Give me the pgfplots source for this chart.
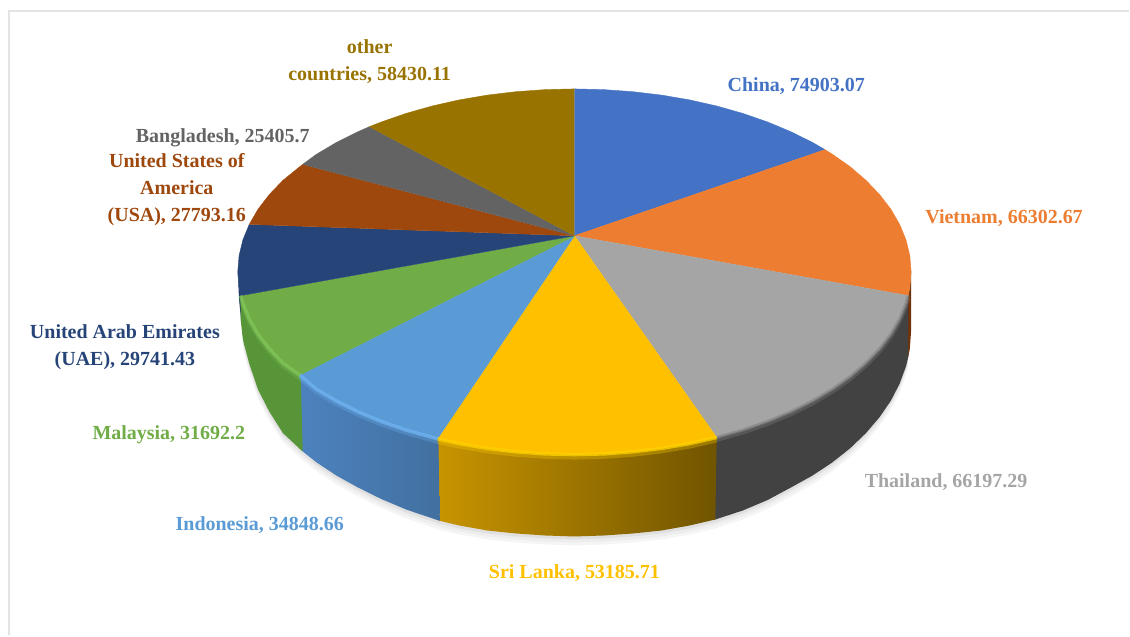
\documentclass[border=0pt]{standalone}
\usepackage{pgfplots}
\usepackage{pgfplotstable}
\usepackage{fontspec}
\setmainfont{Liberation Serif}
\pgfplotsset{compat=1.18}
\tikzset{lab/.style={font=\fontsize{20}{27}\selectfont\bfseries, align=center, inner sep=0pt}}
\definecolor{cChina}{HTML}{4472C4}
\definecolor{cViet}{HTML}{ED7D31}
\definecolor{cThai}{HTML}{A5A5A5}
\definecolor{cSri}{HTML}{FFC000}
\definecolor{cIndo}{HTML}{5B9BD5}
\definecolor{cMal}{HTML}{70AD47}
\definecolor{cUAE}{HTML}{264478}
\definecolor{cUSA}{HTML}{9E480E}
\definecolor{cBan}{HTML}{636363}
\definecolor{cOth}{HTML}{997300}
\definecolor{sSriL}{RGB}{200,148,0}
\definecolor{sSriR}{RGB}{112,84,0}
\definecolor{sIndoL}{RGB}{76,130,190}
\definecolor{sIndoR}{RGB}{66,112,160}
\definecolor{sMalC}{RGB}{88,148,56}
\definecolor{rSri}{RGB}{255,208,0}
\definecolor{rIndo}{RGB}{110,178,240}
\definecolor{rMal}{RGB}{128,196,88}
\definecolor{rThai}{RGB}{128,128,128}
% top faces: first row is the apex
\pgfplotstableread{
x y
575 236
575 89
604.4 89.7
633.5 91.8
662.2 95.2
690.3 100
717.4 106.1
743.5 113.5
768.3 122.1
791.6 131.8
813.3 142.6
825.8 149.8
}\tChina
\pgfplotstableread{
x y
575 236
825.8 149.8
833.2 154.4
851.1 167
866.8 180.5
880.4 194.7
891.7 209.4
900.5 224.6
906.9 240.2
910.7 256
912 272
910.7 288
909.1 295.9
}\tViet
\pgfplotstableread{
x y
575 236
909.1 295.9
906.9 303.8
900.5 319.4
891.7 334.6
880.4 349.3
866.8 363.5
851.1 377
833.2 389.6
813.3 401.4
791.6 412.2
768.3 421.9
743.5 430.5
717.4 437.9
}\tThai
\pgfplotstableread{
x y
575 236
717.4 437.9
690.3 444
662.2 448.8
633.5 452.2
604.4 454.3
575 455
545.6 454.3
516.5 452.2
487.8 448.8
459.7 444
437.9 439.2
}\tSri
\pgfplotstableread{
x y
575 236
437.9 439.2
406.5 430.5
381.7 421.9
358.4 412.2
336.7 401.4
316.8 389.6
300 375.5
}\tIndo
\pgfplotstableread{
x y
575 236
300 375.5
283.2 363.5
269.6 349.3
258.3 334.6
249.5 319.4
243.1 303.8
240.9 295.9
}\tMal
\pgfplotstableread{
x y
575 236
240.9 295.9
239.3 288
238 272
239.3 256
243.1 240.2
249.5 224.6
}\tUAE
\pgfplotstableread{
x y
575 236
249.5 224.6
258.3 209.4
269.6 194.7
283.2 180.5
303 164.5
}\tUSA
\pgfplotstableread{
x y
575 236
303 164.5
316.8 154.4
336.7 142.6
358.4 131.8
369.8 126.8
}\tBan
\pgfplotstableread{
x y
575 236
369.8 126.8
381.7 122.1
406.5 113.5
432.6 106.1
459.7 100
487.8 95.2
516.5 91.8
545.6 89.7
575 89
}\tOth
% side walls: top edge, then bottom edge back
\pgfplotstableread{
x y
912 272
910.7 288
909.1 295.9
909.1 357.8
910.7 348.9
912 331
}\sViet
\pgfplotstableread{
x y
909.1 295.9
906.9 303.8
900.5 319.4
891.7 334.6
880.4 349.3
866.8 363.5
851.1 377
833.2 389.6
813.3 401.4
791.6 412.2
768.3 421.9
743.5 430.5
716.4 437.9
715 520.3
743.5 511
768.3 500.5
791.6 488
813.3 476
833.2 462.8
851.1 448.6
866.8 433.5
880.4 417.6
891.7 401.1
900.5 384.1
906.9 366.6
909.1 357.8
}\sThai
\pgfplotstableread{
x y
717.4 437.9
690.3 444
662.2 448.8
633.5 452.2
604.4 454.3
575 455
545.6 454.3
516.5 452.2
487.8 448.8
459.7 444
437.9 439.2
439 521
459.7 526
487.8 531
516.5 534
545.6 536
575 537
604.4 536
633.5 534
662.2 531
690.3 526
716 520
}\sSri
\pgfplotstableread{
x y
438.9 439.2
406.5 430.5
381.7 421.9
358.4 412.2
336.7 401.4
316.8 389.6
300 375.5
302 451
316.8 462.8
336.7 476
358.4 488
381.7 499.5
406.5 510
440 521.3
}\sIndo
\pgfplotstableread{
x y
301 375.5
283.2 363.5
269.6 349.3
258.3 334.6
249.5 319.4
243.1 303.8
240.9 295.9
240.9 320
243.1 340
249.5 364
258.3 390
269.6 412
283.2 433.5
303 452
}\sMal
\pgfplotstableread{
x y
241.5 295.9
239.3 288
238 272
239.3 300
241.5 322
}\sUAE
% the lower rim, for the soft shadow under the pie
\pgfplotstableread{
x y
909.1 357.8
906.9 366.6
900.5 384.1
891.7 401.1
880.4 417.6
866.8 433.5
851.1 448.6
833.2 462.8
813.3 476
791.6 488
768.3 500.5
743.5 511
716 520
690.3 526
662.2 531
633.5 534
604.4 536
575 537
545.6 536
516.5 534
487.8 531
459.7 526
439 521
406.5 510
381.7 499.5
358.4 488
336.7 476
316.8 462.8
302 451
283.2 433.5
269.6 412
258.3 390
249.5 364
243.1 340
}\rimlow
\begin{document}
\begin{tikzpicture}
\begin{axis}[
  scale only axis, width=1130pt, height=636pt,
  xmin=0, xmax=1130, ymin=0, ymax=636, y dir=reverse,
  hide axis, clip=false,
  wedge/.style={draw=#1, line width=0.4pt, fill=#1},
  rim/.style n args={2}{draw=#1, line width=#2, skip coords between index={0}{1}, line join=round},
]
% page extent
\path[draw=none] (axis cs:0,0) rectangle (axis cs:1130,636);
% frame
\draw[draw=black!11, line width=2.2pt] (axis cs:9,636) -- (axis cs:9,11) -- (axis cs:1130,11);
% shadow
\addplot[draw=none, fill=black!4, yshift=-9pt] table {\rimlow};
\addplot[draw=none, fill=black!7, yshift=-6pt] table {\rimlow};
\addplot[draw=none, fill=black!12, yshift=-3pt] table {\rimlow};
% side walls
\addplot[draw=none, fill=cUSA!70!black] table {\sViet};
\addplot[draw=none, fill=cUAE!80!black] table {\sUAE};
\addplot[draw=none, fill=black!74] table {\sThai};
\addplot[draw=none, left color=sSriL, right color=sSriR] table {\sSri};
\addplot[draw=none, left color=sIndoL, right color=sIndoR] table {\sIndo};
\addplot[draw=none, fill=sMalC] table {\sMal};
% soft band below the rim
\addplot[rim={rThai}{4pt}, yshift=-2.5pt, opacity=0.35] table {\tThai};
\addplot[rim={rSri}{4pt}, yshift=-3pt, opacity=0.3] table {\tSri};
\addplot[rim={rIndo}{4pt}, yshift=-3pt, opacity=0.3] table {\tIndo};
\addplot[rim={rMal}{4pt}, yshift=-3pt, opacity=0.3] table {\tMal};
% top faces
\addplot[wedge=cChina] table {\tChina};
\addplot[wedge=cViet] table {\tViet};
\addplot[wedge=cThai] table {\tThai};
\addplot[wedge=cSri] table {\tSri};
\addplot[wedge=cIndo] table {\tIndo};
\addplot[wedge=cMal] table {\tMal};
\addplot[wedge=cUAE] table {\tUAE};
\addplot[wedge=cUSA] table {\tUSA};
\addplot[wedge=cBan] table {\tBan};
\addplot[wedge=cOth] table {\tOth};
% bevelled rims
\addplot[rim={rThai}{3pt}, opacity=0.6] table {\tThai};
\addplot[rim={rSri}{3.5pt}, opacity=0.8] table {\tSri};
\addplot[rim={rIndo}{3.5pt}, opacity=0.8] table {\tIndo};
\addplot[rim={rMal}{3.5pt}, opacity=0.8] table {\tMal};
% labels
\node[lab, text=cChina] at (axis cs:797,86) {China, 74903.07};
\node[lab, text=cViet] at (axis cs:1005,218) {Vietnam, 66302.67};
\node[lab, text=cThai] at (axis cs:947,483) {Thailand, 66197.29};
\node[lab, text=cSri] at (axis cs:575,574) {Sri Lanka, 53185.71};
\node[lab, text=cIndo] at (axis cs:260,526) {Indonesia, 34848.66};
\node[lab, text=cMal] at (axis cs:169,435) {Malaysia, 31692.2};
\node[lab, text=cUAE] at (axis cs:125,348) {United Arab Emirates\\(UAE), 29741.43};
\node[lab, text=cUSA] at (axis cs:177,190) {United States of\\America\\(USA), 27793.16};
\node[lab, text=cBan] at (axis cs:223,138) {Bangladesh, 25405.7};
\node[lab, text=cOth] at (axis cs:370,62) {other\\countries, 58430.11};
\end{axis}
\end{tikzpicture}
\end{document}
